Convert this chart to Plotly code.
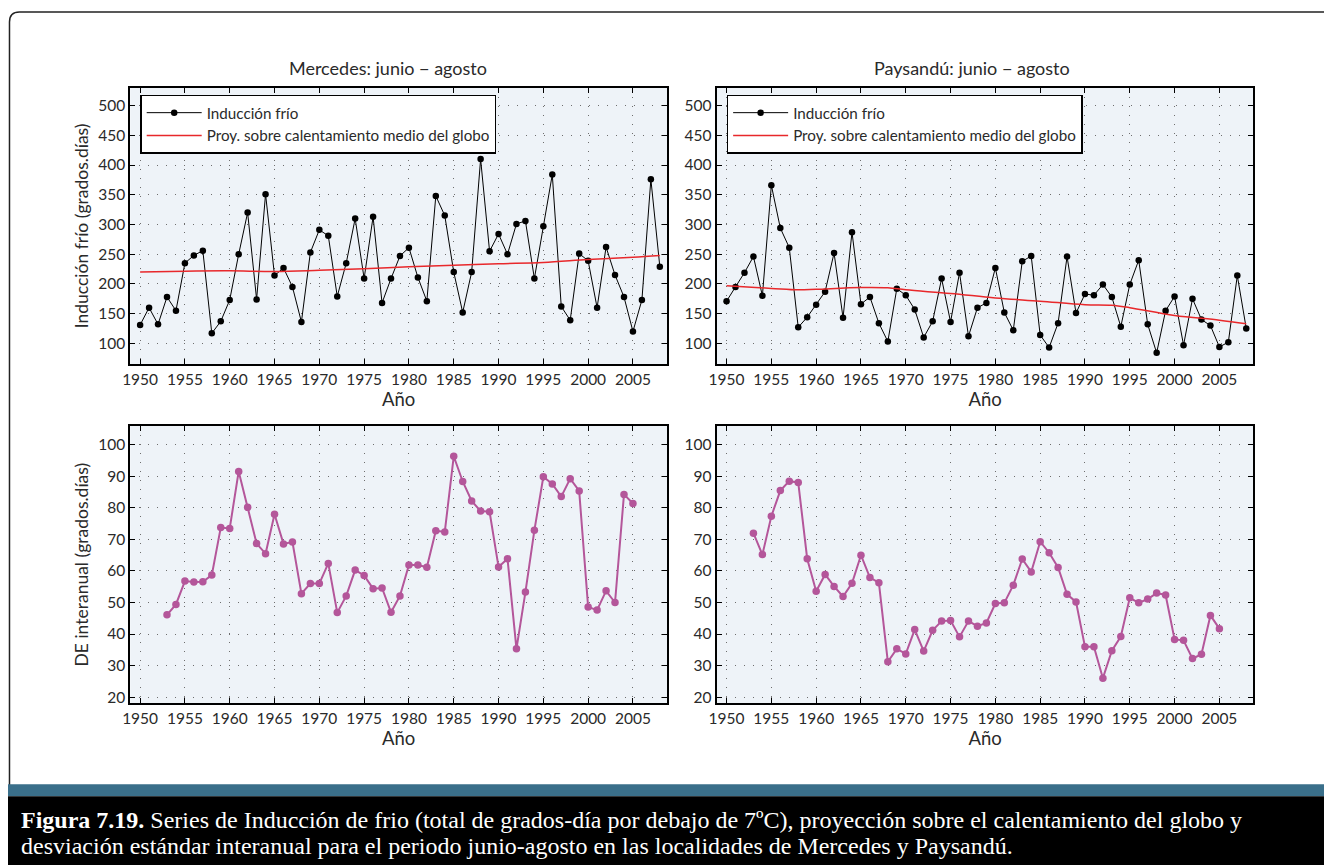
import plotly.graph_objects as go

W, H = 1324, 867

years = list(range(1950, 2009))
mercedes_ind = [131, 160, 132, 178, 155, 235, 248, 256, 117, 137,
                173, 250, 320, 174, 351, 214, 227, 195, 136, 253,
                291, 281, 179, 235, 310, 209, 313, 168, 209, 247,
                261, 211, 171, 348, 315, 220, 152, 220, 410, 255,
                284, 250, 301, 306, 209, 297, 384, 162, 139, 251,
                239, 160, 262, 215, 178, 120, 173, 376, 229]
paysandu_ind = [171, 195, 219, 246, 180, 366, 294, 261, 127, 144,
                165, 187, 252, 143, 287, 166, 178, 134, 103, 192,
                181, 157, 110, 137, 209, 136, 219, 112, 160, 168,
                227, 152, 122, 238, 247, 114, 93, 134, 246, 151,
                183, 181, 199, 178, 128, 199, 240, 132, 84, 155,
                179, 97, 175, 140, 130, 94, 102, 214, 125]

proj_years_m = [1950, 1955, 1960, 1965, 1970, 1975, 1980, 1985, 1990, 1995, 2000, 2005, 2008]
mercedes_proj = [220, 221.5, 222, 221, 223, 225.5, 229, 231.5, 234, 236, 241, 245, 248]
proj_years_p = [1950, 1955, 1958, 1960, 1965, 1968, 1970, 1975, 1980, 1985, 1990, 1993, 1995, 2000, 2005, 2008]
paysandu_proj = [197, 192.5, 190, 191, 194, 193.5, 190, 184, 176.5, 171, 165, 164, 160, 147, 139, 133]

de_years = list(range(1953, 2006))
mercedes_de = [46.1, 49.4, 56.8, 56.5, 56.6, 58.7, 73.8, 73.5, 91.6, 80.2,
               68.7, 65.5, 78.0, 68.6, 69.2, 52.8, 56.0, 56.0, 62.4, 46.8,
               52.1, 60.3, 58.6, 54.4, 54.6, 46.9, 52.1, 61.9, 61.9, 61.2,
               72.8, 72.4, 96.4, 88.4, 82.2, 79.0, 78.8, 61.3, 63.9, 35.3,
               53.3, 72.9, 89.9, 87.6, 83.6, 89.3, 85.4, 48.6, 47.6, 53.7,
               50.0, 84.3, 81.4]
paysandu_de = [72.0, 65.2, 77.4, 85.5, 88.5, 88.1, 63.9, 53.6, 58.9, 55.1,
               51.9, 56.1, 65.0, 57.9, 56.3, 31.2, 35.3, 33.7, 41.4, 34.6,
               41.2, 44.1, 44.3, 39.1, 44.1, 42.5, 43.5, 49.7, 49.9, 55.5,
               63.8, 59.7, 69.3, 65.8, 61.1, 52.6, 50.2, 36.0, 36.0, 26.0,
               34.7, 39.2, 51.5, 49.9, 51.1, 53.0, 52.4, 38.3, 38.0, 32.2,
               33.6, 45.9, 41.7]

x_ticks = list(range(1950, 2006, 5))
y_ticks_top = list(range(100, 501, 50))
y_ticks_bot = list(range(20, 101, 10))

titles = ["Mercedes: junio \u2212 agosto", "Paysandú: junio \u2212 agosto"]
leg_names = ["Inducción frío", "Proy. sobre calentamiento medio del globo"]
caption_lines = [
    "<b>Figura 7.19.</b> Series de Inducción de frio (total de grados-día por debajo de 7ºC), "
    "proyección sobre el calentamiento del globo y",
    "desviación estándar interanual para el periodo junio-agosto en las localidades de Mercedes y Paysandú.",
]

FONT = "Lato"
TXT = "#2a2a2a"
BLACK = "#000000"
RED = "#e8282b"
MAG = "#b4569a"
PLOTBG = "#eef3f8"

DX = 8  # page offset of the rendered figure


def px(x):
    return (x - DX) / W


def py(y):
    return 1 - y / H


fig = go.Figure()

fig.add_trace(go.Scatter(x=years, y=mercedes_ind, mode="lines+markers", name=leg_names[0],
                         line=dict(color=BLACK, width=1), marker=dict(color=BLACK, size=6.5),
                         xaxis="x", yaxis="y", legend="legend", legendgroup="a"))
fig.add_trace(go.Scatter(x=proj_years_m, y=mercedes_proj, mode="lines", name=leg_names[1],
                         line=dict(color=RED, width=1.5, shape="spline"),
                         xaxis="x", yaxis="y", legend="legend", legendgroup="b"))
fig.add_trace(go.Scatter(x=years, y=paysandu_ind, mode="lines+markers", name=leg_names[0],
                         line=dict(color=BLACK, width=1), marker=dict(color=BLACK, size=6.5),
                         xaxis="x2", yaxis="y2", legend="legend2", legendgroup="c"))
fig.add_trace(go.Scatter(x=proj_years_p, y=paysandu_proj, mode="lines", name=leg_names[1],
                         line=dict(color=RED, width=1.5, shape="spline"),
                         xaxis="x2", yaxis="y2", legend="legend2", legendgroup="d"))
fig.add_trace(go.Scatter(x=de_years, y=mercedes_de, mode="lines+markers", showlegend=False,
                         line=dict(color=MAG, width=2), marker=dict(color=MAG, size=7.5),
                         xaxis="x3", yaxis="y3"))
fig.add_trace(go.Scatter(x=de_years, y=paysandu_de, mode="lines+markers", showlegend=False,
                         line=dict(color=MAG, width=2), marker=dict(color=MAG, size=7.5),
                         xaxis="x4", yaxis="y4"))

axis_common = dict(showline=True, linecolor=BLACK, linewidth=2, mirror="ticks",
                   ticks="inside", ticklen=5, tickcolor=BLACK, tickwidth=1,
                   showgrid=True, gridcolor="#6e6e6e", griddash="1px,8px", gridwidth=1,
                   zeroline=False, tickfont=dict(family=FONT, size=15.5, color=TXT))

xdom_l = [px(131), px(671)]
xdom_r = [px(721), px(1261)]
ydom_t = [py(365), py(88)]
ydom_b = [py(705), py(427)]
xr = [1948.9, 2008.8]

xtitle = dict(text="Año", font=dict(family=FONT, size=18.5, color=TXT), standoff=6)
leg_common = dict(xanchor="left", yanchor="top", bgcolor="white",
                  bordercolor=BLACK, borderwidth=1.5, font=dict(family=FONT, size=15.2, color=TXT),
                  itemwidth=55, tracegroupgap=0)

layout = dict(
    width=W, height=H, margin=dict(l=0, r=0, t=0, b=0),
    paper_bgcolor="white", plot_bgcolor=PLOTBG,
    font=dict(family=FONT, color=TXT),
    xaxis=dict(domain=xdom_l, range=xr, tickvals=x_ticks, anchor="y", title=xtitle, **axis_common),
    yaxis=dict(domain=ydom_t, range=[65, 530], tickvals=y_ticks_top, anchor="x",
               title=dict(text="Inducción frío (grados.días)", font=dict(family=FONT, size=17.5, color=TXT), standoff=5),
               **axis_common),
    xaxis2=dict(domain=xdom_r, range=xr, tickvals=x_ticks, anchor="y2", title=xtitle, **axis_common),
    yaxis2=dict(domain=ydom_t, range=[65, 530], tickvals=y_ticks_top, anchor="x2", **axis_common),
    xaxis3=dict(domain=xdom_l, range=xr, tickvals=x_ticks, anchor="y3", title=xtitle, **axis_common),
    yaxis3=dict(domain=ydom_b, range=[18, 106], tickvals=y_ticks_bot, anchor="x3",
                title=dict(text="DE interanual (grados.días)", font=dict(family=FONT, size=17.5, color=TXT), standoff=5),
                **axis_common),
    xaxis4=dict(domain=xdom_r, range=xr, tickvals=x_ticks, anchor="y4", title=xtitle, **axis_common),
    yaxis4=dict(domain=ydom_b, range=[18, 106], tickvals=y_ticks_bot, anchor="x4", **axis_common),
    legend=dict(x=px(141), y=py(95), **leg_common),
    legend2=dict(x=px(731), y=py(95), **leg_common),
)
fig.update_layout(**layout)

for t, cx in zip(titles, [390, 978]):
    fig.add_annotation(text=t, x=px(cx), y=py(68), xref="paper", yref="paper",
                       showarrow=False, xanchor="center", yanchor="middle",
                       font=dict(family=FONT, size=18, color=TXT))

card_path = (f"M {px(9.5)},{py(787)} L {px(9.5)},{py(22)} "
             f"Q {px(9.5)},{py(12)} {px(19.5)},{py(12)} L {px(1340)},{py(12)}")
fig.add_shape(type="path", path=card_path, xref="paper", yref="paper",
              line=dict(color="#222", width=1.5), layer="below")
fig.add_shape(type="rect", x0=0, x1=1, y0=py(798), y1=py(786), xref="paper", yref="paper",
              fillcolor="#3a6f8a", line=dict(width=0), layer="above")
fig.add_shape(type="rect", x0=0, x1=1, y0=0, y1=py(798), xref="paper", yref="paper",
              fillcolor="#000000", line=dict(width=0), layer="above")

for line, cy in zip(caption_lines, [822, 848]):
    fig.add_annotation(text=line, x=px(19), y=py(cy), xref="paper", yref="paper",
                       showarrow=False, xanchor="left", yanchor="middle", align="left",
                       font=dict(family="Liberation Serif", size=24, color="white"))

fig.write_html("out.html", config={"displayModeBar": False},
               post_script="document.body.style.margin='0';document.body.style.overflow='hidden';")
